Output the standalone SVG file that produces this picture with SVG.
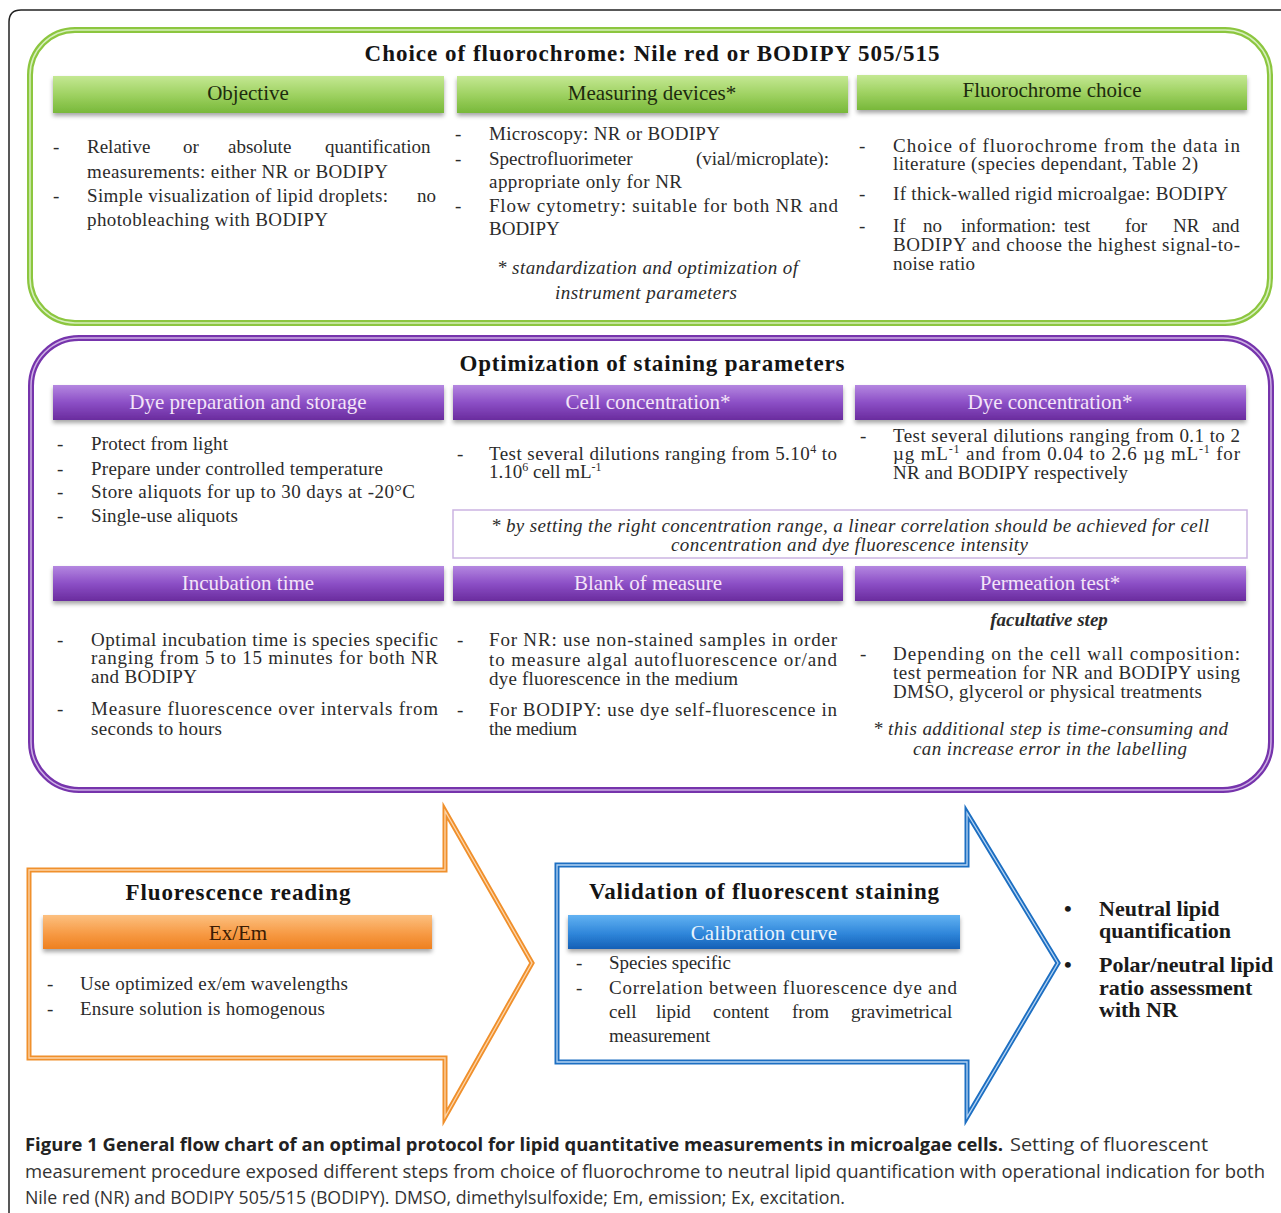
<svg xmlns="http://www.w3.org/2000/svg" width="1281" height="1213" viewBox="0 0 1281 1213">
<defs>
  <linearGradient id="gGreen" x1="0" y1="0" x2="0" y2="1">
    <stop offset="0" stop-color="#c4e893"/>
    <stop offset="0.5" stop-color="#9fd262"/>
    <stop offset="1" stop-color="#78b83a"/>
  </linearGradient>
  <linearGradient id="gPurple" x1="0" y1="0" x2="0" y2="1">
    <stop offset="0" stop-color="#b487e0"/>
    <stop offset="0.5" stop-color="#8c4fc6"/>
    <stop offset="1" stop-color="#6a2c9e"/>
  </linearGradient>
  <linearGradient id="gOrange" x1="0" y1="0" x2="0" y2="1">
    <stop offset="0" stop-color="#fcc080"/>
    <stop offset="0.55" stop-color="#f79a44"/>
    <stop offset="1" stop-color="#ee8020"/>
  </linearGradient>
  <linearGradient id="gBlue" x1="0" y1="0" x2="0" y2="1">
    <stop offset="0" stop-color="#62b2f2"/>
    <stop offset="0.55" stop-color="#2f86da"/>
    <stop offset="1" stop-color="#1460b6"/>
  </linearGradient>
  <filter id="sh" x="-5%" y="-30%" width="110%" height="170%">
    <feDropShadow dx="0" dy="3" stdDeviation="2" flood-color="#000" flood-opacity="0.35"/>
  </filter>
</defs>
<style>
  text { font-family: "Liberation Serif", "Times New Roman", serif; }
  .t { font-size: 19px; fill: #2b2b2b; }
  .d { font-size: 19px; fill: #2b2b2b; }
  .hg { font-size: 21px; fill: #1d2b0e; text-anchor: middle; }
  .hp { font-size: 21px; fill: #f4e4f8; text-anchor: middle; }
  .ho { font-size: 21px; fill: #3a1c04; text-anchor: middle; }
  .hb { font-size: 21px; fill: #e8f3fd; text-anchor: middle; }
  .ttl { font-size: 23px; font-weight: bold; fill: #141414; text-anchor: middle; }
  .it { font-size: 19px; font-style: italic; fill: #2b2b2b; }
  .bb { font-size: 22px; font-weight: bold; fill: #1a1a1a; }
  .cap { font-family: "Open Sans", "Liberation Sans", sans-serif; font-size: 18px; fill: #333; }
  .capb { font-family: "Open Sans", "Liberation Sans", sans-serif; font-size: 18px; font-weight: bold; fill: #222; }
  .sup { font-size: 12px; }
</style>

<rect width="1281" height="1213" fill="#ffffff"/>
<path d="M9,1213 V22 Q9,10 21,10 H1281" fill="none" stroke="#222" stroke-width="1.5"/>

<!-- Section 1: choice of fluorochrome -->
<g id="choice">
  <rect x="30" y="30" width="1240" height="293" rx="45" fill="#fff" stroke="#8cc63f" stroke-width="6"/>
  <rect x="30" y="30" width="1240" height="293" rx="45" fill="none" stroke="#d6efbd" stroke-width="1.5"/>
  <text class="ttl" x="652" y="61" textLength="575">Choice of fluorochrome: Nile red or BODIPY 505/515</text>
</g>

<g id="objective">
  <rect x="53" y="76" width="391" height="37" fill="url(#gGreen)" filter="url(#sh)"/>
  <text class="hg" x="248" y="100">Objective</text>
  <text class="d" x="53" y="153">-</text>
  <text class="t" y="153"><tspan x="87">Relative</tspan><tspan x="183">or</tspan><tspan x="228">absolute</tspan><tspan x="325">quantification</tspan></text>
  <text class="t" x="87" y="178" textLength="301">measurements:  either NR or BODIPY</text>
  <text class="d" x="53" y="202">-</text>
  <text class="t" x="87" y="202" textLength="301">Simple visualization of lipid droplets:</text>
  <text class="t" x="417" y="202">no</text>
  <text class="t" x="87" y="226" textLength="241">photobleaching  with BODIPY</text>
</g>

<g id="measuring">
  <rect x="457" y="76" width="391" height="37" fill="url(#gGreen)" filter="url(#sh)"/>
  <text class="hg" x="652" y="100">Measuring devices*</text>
  <text class="d" x="455" y="140">-</text>
  <text class="t" x="489" y="140" textLength="231">Microscopy:  NR or BODIPY</text>
  <text class="d" x="455" y="165">-</text>
  <text class="t" y="165"><tspan x="489">Spectrofluorimeter</tspan><tspan x="696">(vial/microplate):</tspan></text>
  <text class="t" x="489" y="188" textLength="193">appropriate only for NR</text>
  <text class="d" x="455" y="212">-</text>
  <text class="t" x="489" y="212" textLength="349">Flow cytometry: suitable for both NR and</text>
  <text class="t" x="489" y="235">BODIPY</text>
  <text class="it" x="497" y="274" textLength="301">* standardization and optimization of</text>
  <text class="it" x="555" y="299" textLength="182">instrument parameters</text>
</g>

<g id="fluorochrome-choice">
  <rect x="857" y="75" width="390" height="35" fill="url(#gGreen)" filter="url(#sh)"/>
  <text class="hg" x="1052" y="97">Fluorochrome choice</text>
  <text class="d" x="859" y="152">-</text>
  <text class="t" x="893" y="152" textLength="347">Choice of fluorochrome from the data in</text>
  <text class="t" x="893" y="170" textLength="305">literature (species dependant, Table 2)</text>
  <text class="d" x="859" y="200">-</text>
  <text class="t" x="893" y="200" textLength="335">If thick-walled rigid microalgae:  BODIPY</text>
  <text class="d" x="859" y="232">-</text>
  <text class="t" y="232"><tspan x="893">If</tspan><tspan x="923">no</tspan><tspan x="961">information:</tspan><tspan x="1064">test</tspan><tspan x="1125">for</tspan><tspan x="1173">NR</tspan><tspan x="1212">and</tspan></text>
  <text class="t" x="893" y="251" textLength="347">BODIPY and choose the highest signal-to-</text>
  <text class="t" x="893" y="270" textLength="82">noise ratio</text>
</g>

<!-- Section 2: optimization -->
<g id="optimization">
  <rect x="31" y="338" width="1240" height="452" rx="48" fill="#fff" stroke="#7634ac" stroke-width="6"/>
  <rect x="31" y="338" width="1240" height="452" rx="48" fill="none" stroke="#cdb0e4" stroke-width="1.5"/>
  <text class="ttl" x="652" y="371" textLength="385">Optimization of staining parameters</text>
</g>

<g id="dye-preparation">
  <rect x="53" y="385" width="391" height="35" fill="url(#gPurple)" filter="url(#sh)"/>
  <text class="hp" x="248" y="409">Dye preparation and storage</text>
  <text class="d" x="57" y="450">-</text>
  <text class="t" x="91" y="450" textLength="137">Protect from light</text>
  <text class="d" x="57" y="475">-</text>
  <text class="t" x="91" y="475" textLength="292">Prepare under controlled  temperature</text>
  <text class="d" x="57" y="498">-</text>
  <text class="t" x="91" y="498" textLength="324">Store aliquots  for up to 30 days at -20°C</text>
  <text class="d" x="57" y="522">-</text>
  <text class="t" x="91" y="522" textLength="147">Single-use  aliquots</text>
</g>

<g id="cell-concentration">
  <rect x="453" y="385" width="390" height="35" fill="url(#gPurple)" filter="url(#sh)"/>
  <text class="hp" x="648" y="409">Cell concentration*</text>
  <text class="d" x="457" y="460">-</text>
  <text class="t" x="489" y="460" textLength="348">Test several dilutions ranging from 5.10<tspan class="sup" dy="-7">4</tspan><tspan dy="7"> to</tspan></text>
  <text class="t" x="489" y="478">1.10<tspan class="sup" dy="-7">6</tspan><tspan dy="7"> cell mL</tspan><tspan class="sup" dy="-7">-1</tspan></text>
</g>

<g id="dye-concentration">
  <rect x="855" y="385" width="391" height="35" fill="url(#gPurple)" filter="url(#sh)"/>
  <text class="hp" x="1050" y="409">Dye concentration*</text>
  <text class="d" x="860" y="442">-</text>
  <text class="t" x="893" y="442" textLength="347">Test several dilutions ranging from 0.1 to 2</text>
  <text class="t" x="893" y="460" textLength="347">µg  mL<tspan class="sup" dy="-7">-1</tspan><tspan dy="7"> and from 0.04 to 2.6 µg  mL</tspan><tspan class="sup" dy="-7">-1</tspan><tspan dy="7"> for</tspan></text>
  <text class="t" x="893" y="479" textLength="235">NR and BODIPY respectively</text>
</g>

<g id="concentration-note">
  <rect x="453" y="510" width="794" height="48" fill="#fff" stroke="#cbb4e2" stroke-width="1.5"/>
  <text class="it" x="491" y="532" textLength="718">* by setting the right concentration range, a linear correlation should be achieved for cell</text>
  <text class="it" x="671" y="551" textLength="357">concentration and dye fluorescence intensity</text>
</g>

<g id="incubation-time">
  <rect x="53" y="566" width="391" height="35" fill="url(#gPurple)" filter="url(#sh)"/>
  <text class="hp" x="248" y="590">Incubation time</text>
  <text class="d" x="57" y="646">-</text>
  <text class="t" x="91" y="646" textLength="347">Optimal incubation time is species specific</text>
  <text class="t" x="91" y="664" textLength="347">ranging from 5 to 15 minutes for both NR</text>
  <text class="t" x="91" y="683" textLength="106">and BODIPY</text>
  <text class="d" x="57" y="715">-</text>
  <text class="t" x="91" y="715" textLength="347">Measure fluorescence over intervals from</text>
  <text class="t" x="91" y="735" textLength="131">seconds to hours</text>
</g>

<g id="blank-of-measure">
  <rect x="453" y="566" width="390" height="35" fill="url(#gPurple)" filter="url(#sh)"/>
  <text class="hp" x="648" y="590">Blank of measure</text>
  <text class="d" x="457" y="646">-</text>
  <text class="t" x="489" y="646" textLength="348">For NR: use non-stained samples in order</text>
  <text class="t" x="489" y="666" textLength="348">to measure algal autofluorescence or/and</text>
  <text class="t" x="489" y="685" textLength="249">dye fluorescence  in the medium</text>
  <text class="d" x="457" y="716">-</text>
  <text class="t" x="489" y="716" textLength="348">For BODIPY: use dye self-fluorescence in</text>
  <text class="t" x="489" y="735" textLength="88">the medium</text>
</g>

<g id="permeation-test">
  <rect x="855" y="566" width="391" height="35" fill="url(#gPurple)" filter="url(#sh)"/>
  <text class="hp" x="1050" y="590">Permeation test*</text>
  <text class="it" x="1049" y="626" font-weight="bold" text-anchor="middle">facultative step</text>
  <text class="d" x="860" y="660">-</text>
  <text class="t" x="893" y="660" textLength="347">Depending on the cell wall composition:</text>
  <text class="t" x="893" y="679" textLength="347">test permeation for NR and BODIPY using</text>
  <text class="t" x="893" y="698" textLength="309">DMSO, glycerol  or physical  treatments</text>
  <text class="it" x="873" y="735" textLength="355">* this additional step is time-consuming and</text>
  <text class="it" x="913" y="755" textLength="274">can increase error in the labelling</text>
</g>

<!-- Section 3: arrows -->
<g id="fluorescence-reading">
  <path d="M29,870 H445 V811 L532,963 L445,1117 V1058 H29 Z" fill="#fff" stroke="#f0902c" stroke-width="5" stroke-linejoin="miter"/>
  <path d="M29,870 H445 V811 L532,963 L445,1117 V1058 H29 Z" fill="none" stroke="#fcd5aa" stroke-width="1.3"/>
  <text class="ttl" x="238" y="900" font-size="22" textLength="225">Fluorescence reading</text>
  <rect x="43" y="915" width="389" height="34" fill="url(#gOrange)" filter="url(#sh)"/>
  <text class="ho" x="238" y="940">Ex/Em</text>
  <text class="d" x="47" y="990">-</text>
  <text class="t" x="80" y="990" font-size="18" textLength="268">Use optimized  ex/em  wavelengths</text>
  <text class="d" x="47" y="1015">-</text>
  <text class="t" x="80" y="1015" font-size="18" textLength="245">Ensure  solution  is  homogenous</text>
</g>

<g id="validation">
  <path d="M557,865 H967 V813 L1058,963 L967,1117 V1062 H557 Z" fill="#fff" stroke="#1d6fc2" stroke-width="5" stroke-linejoin="miter"/>
  <path d="M557,865 H967 V813 L1058,963 L967,1117 V1062 H557 Z" fill="none" stroke="#b4d3f2" stroke-width="1.3"/>
  <text class="ttl" x="764" y="899" font-size="22" textLength="350">Validation of fluorescent staining</text>
  <rect x="568" y="915" width="392" height="34" fill="url(#gBlue)" filter="url(#sh)"/>
  <text class="hb" x="764" y="940">Calibration curve</text>
  <text class="d" x="576" y="969">-</text>
  <text class="t" x="609" y="969" font-size="18">Species specific</text>
  <text class="d" x="576" y="994">-</text>
  <text class="t" x="609" y="994" font-size="18" textLength="348">Correlation between fluorescence dye and</text>
  <text class="t" y="1018" font-size="18"><tspan x="609">cell</tspan><tspan x="656">lipid</tspan><tspan x="713">content</tspan><tspan x="792">from</tspan><tspan x="851">gravimetrical</tspan></text>
  <text class="t" x="609" y="1042" font-size="18">measurement</text>
</g>

<g id="outcomes">
  <text class="bb" x="1064" y="916">•</text>
  <text class="bb" x="1099" y="916">Neutral lipid</text>
  <text class="bb" x="1099" y="938">quantification</text>
  <text class="bb" x="1064" y="972">•</text>
  <text class="bb" x="1099" y="972">Polar/neutral lipid</text>
  <text class="bb" x="1099" y="995">ratio assessment</text>
  <text class="bb" x="1099" y="1017">with NR</text>
</g>

<g id="connectors"></g>

<!-- Caption -->
<g id="caption">
  <text class="capb" x="25" y="1151" textLength="978" lengthAdjust="spacingAndGlyphs">Figure 1 General flow chart of an optimal protocol for lipid quantitative measurements in microalgae cells.</text>
  <text class="cap" x="1010" y="1151" textLength="198" lengthAdjust="spacingAndGlyphs">Setting of fluorescent</text>
  <text class="cap" x="25" y="1178" textLength="1240" lengthAdjust="spacingAndGlyphs">measurement procedure exposed different steps from choice of fluorochrome to neutral lipid quantification with operational indication for both</text>
  <text class="cap" x="25" y="1204" textLength="820" lengthAdjust="spacingAndGlyphs">Nile red (NR) and BODIPY 505/515 (BODIPY). DMSO, dimethylsulfoxide; Em, emission; Ex, excitation.</text>
</g>
</svg>
